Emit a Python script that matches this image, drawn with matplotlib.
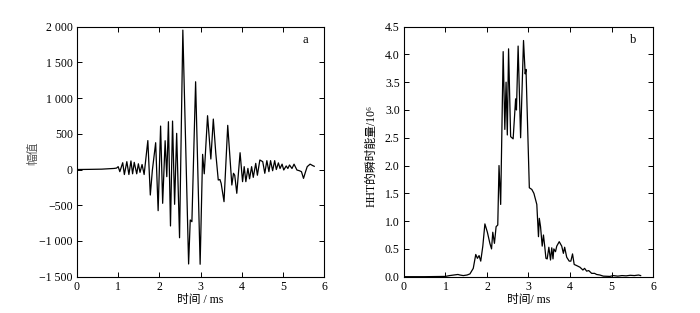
import matplotlib
matplotlib.use("Agg")
import matplotlib.pyplot as plt
from matplotlib.ticker import FuncFormatter
import numpy as np

plt.rcParams['font.family'] = ['Liberation Serif', 'Noto Sans CJK SC', 'DejaVu Sans']

# Panel a: waveform (time ms, amplitude)
t_a = [0.0, 0.3, 0.6, 0.9, 0.96, 1.00, 1.04, 1.11, 1.15, 1.21, 1.26, 1.31, 1.35, 1.39, 1.45,
       1.49, 1.53, 1.58, 1.63, 1.72, 1.78, 1.83, 1.91, 1.97, 2.03, 2.08, 2.14, 2.18, 2.22,
       2.27, 2.32, 2.37, 2.42, 2.49, 2.57, 2.71, 2.75, 2.79, 2.88, 2.99, 3.05, 3.09, 3.17,
       3.25, 3.31, 3.37, 3.43, 3.47, 3.50, 3.57, 3.66, 3.76, 3.80, 3.83, 3.88, 3.96, 4.02,
       4.06, 4.10, 4.15, 4.19, 4.24, 4.28, 4.34, 4.38, 4.44, 4.51, 4.56, 4.61, 4.66, 4.70,
       4.75, 4.80, 4.84, 4.89, 4.93, 4.98, 5.02, 5.08, 5.12, 5.16, 5.22, 5.27, 5.34, 5.40,
       5.45, 5.50, 5.55, 5.59, 5.66, 5.72, 5.76]
v_a = [0, 2, 5, 15, 20, 40, -30, 95, -70, 110, -70, 120, -60, 100, -60,
       80, -40, 70, -70, 405, -357, -10, 375, -576, 608, -473, 403, -100, 669,
       -790, 678, -487, 506, -955, 1951, -1322, -706, -730, 1228, -1326, 212, -60, 753,
       147, 706, 226, -147, -140, -193, -450, 618, -217, -53, -80, -333, 235, -170,
       40, -170, 16, -130, 40, -110, 86, -80, 133, 110, -53, 124, -30, 124,
       -17, 124, 0, 93, 14, 75, -7, 50, 14, 63, 14, 75, -7, -17,
       -30, -124, -30, 40, 75, 56, 45]

# Panel b: HHT instantaneous energy (time ms, energy / 1e6)
t_b = [0.0, 0.5, 1.0, 1.1, 1.2, 1.3, 1.35, 1.43, 1.52, 1.59, 1.67, 1.73, 1.77, 1.81, 1.85,
       1.90, 1.95, 2.01, 2.07, 2.11, 2.14, 2.18, 2.22, 2.26, 2.29, 2.33, 2.39, 2.43, 2.46,
       2.49, 2.52, 2.57, 2.63, 2.69, 2.71, 2.75, 2.81, 2.88, 2.92, 2.94, 3.02, 3.08, 3.13,
       3.20, 3.24, 3.26, 3.29, 3.33, 3.36, 3.39, 3.42, 3.45, 3.49, 3.53, 3.56, 3.59, 3.61,
       3.65, 3.68, 3.74, 3.80, 3.84, 3.87, 3.92, 3.98, 4.02, 4.06, 4.10, 4.16, 4.24, 4.31,
       4.35, 4.40, 4.45, 4.52, 4.59, 4.64, 4.72, 4.80, 4.96, 5.04, 5.15, 5.25, 5.35, 5.45,
       5.55, 5.65, 5.70]
v_b = [0.0, 0.0, 0.005, 0.02, 0.03, 0.04, 0.03, 0.02, 0.03, 0.05, 0.15, 0.40, 0.33, 0.38, 0.28,
       0.55, 0.95, 0.80, 0.60, 0.50, 0.80, 0.60, 0.90, 0.93, 2.00, 1.30, 4.05, 2.65, 3.50,
       2.55, 4.10, 2.52, 2.48, 3.20, 3.00, 4.15, 2.50, 4.25, 3.65, 3.73, 1.60, 1.57, 1.50,
       1.30, 0.72, 1.05, 0.90, 0.55, 0.75, 0.55, 0.33, 0.32, 0.53, 0.30, 0.52, 0.32, 0.50,
       0.45, 0.55, 0.63, 0.55, 0.42, 0.53, 0.35, 0.28, 0.28, 0.41, 0.22, 0.20, 0.17, 0.12,
       0.15, 0.10, 0.11, 0.06, 0.06, 0.04, 0.03, 0.01, 0.005, 0.02, 0.01, 0.02, 0.015, 0.025,
       0.02, 0.03, 0.02]

x_ticks = [0, 1, 2, 3, 4, 5, 6]
a_yticks = [-1500, -1000, -500, 0, 500, 1000, 1500, 2000]
b_yticks = [0.0, 0.5, 1.0, 1.5, 2.0, 2.5, 3.0, 3.5, 4.0, 4.5]

fig = plt.figure(figsize=(7.0, 3.13), dpi=100)
ax1 = fig.add_axes([0.110, 0.116, 0.353, 0.799])
ax2 = fig.add_axes([0.577, 0.116, 0.356, 0.799])

def fmt_a(v, pos):
    s = f"{abs(int(v)):,}".replace(",", " ")
    return ("\u2212" + s) if v < 0 else s

for ax in (ax1, ax2):
    ax.tick_params(direction='in', top=True, right=True, length=3.5, width=0.7,
                   labelsize=8.5, pad=3)
    for sp in ax.spines.values():
        sp.set_linewidth(0.8)
    ax.set_xlim(0, 6)
    ax.set_xticks(x_ticks)

ax1.plot(t_a, v_a, color='black', lw=0.9, solid_joinstyle='round')
ax1.set_ylim(-1500, 2000)
ax1.set_yticks(a_yticks)
ax1.yaxis.set_major_formatter(FuncFormatter(fmt_a))
ax1.set_xlabel("时间 / ms", fontsize=8.5, labelpad=1)
ax1.set_ylabel("幅值", fontsize=8.5, color='#555555')
ax1.yaxis.set_label_coords(-0.152, 0.495)
ax1.text(0.923, 0.947, "a", transform=ax1.transAxes, fontsize=9, ha='center', va='center')

ax2.plot(t_b, v_b, color='black', lw=0.9, solid_joinstyle='round')
ax2.set_ylim(0, 4.5)
ax2.set_yticks(b_yticks)
ax2.yaxis.set_major_formatter(FuncFormatter(lambda v, p: f"{v:.1f}"))
ax2.set_xlabel("时间/ ms", fontsize=8.5, labelpad=1)
ax2.set_ylabel("HHT的瞬时能量/10\u2076", fontsize=8.5)
ax2.yaxis.set_label_coords(-0.104, 0.483)
ax2.text(0.92, 0.945, "b", transform=ax2.transAxes, fontsize=9, ha='center', va='center')

fig.savefig("out.png", dpi=100)
